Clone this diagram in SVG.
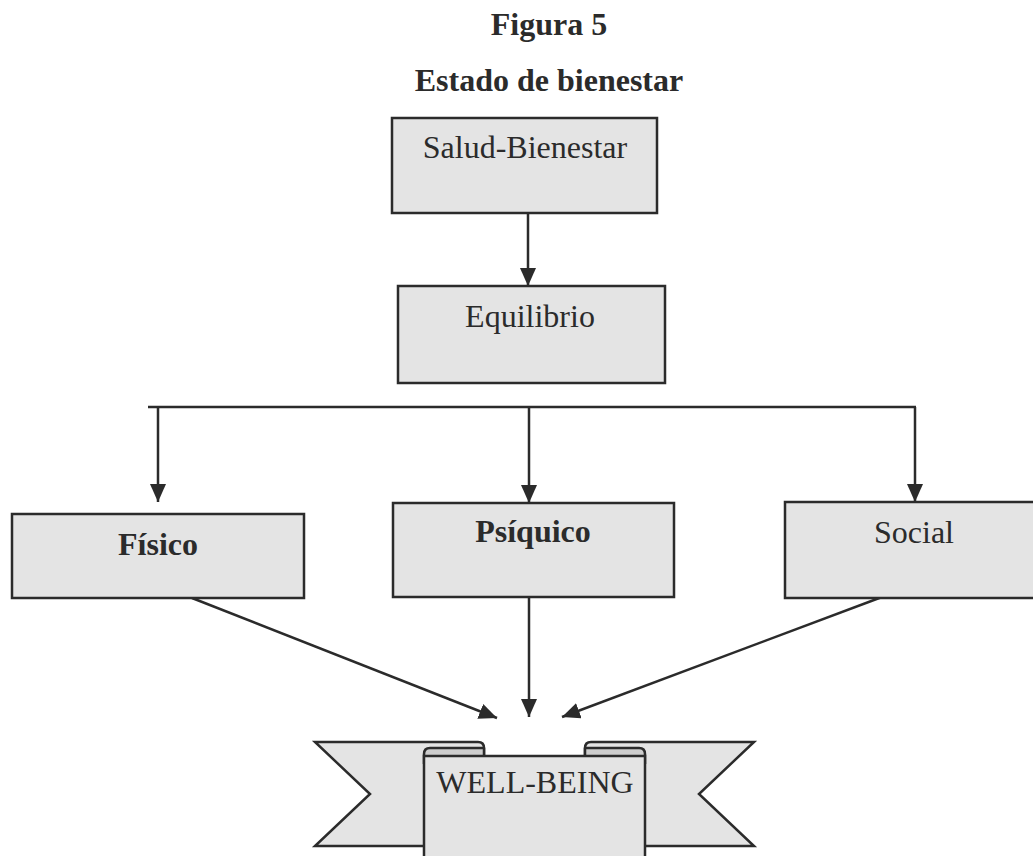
<svg xmlns="http://www.w3.org/2000/svg" width="1033" height="856" viewBox="0 0 1033 856">
  <style>
    .box { fill: #e4e4e4; stroke: #2b2b2b; stroke-width: 2.5; }
    .fold { fill: #cdcdcd; stroke: #2b2b2b; stroke-width: 2.5; stroke-linejoin: round; }
    .lbl { font-family: "Liberation Serif", "Times New Roman", serif; font-size: 32px; fill: #2b2b2b; text-anchor: middle; }
    .bold { font-weight: bold; }
    .wire { fill: none; stroke: #2b2b2b; stroke-width: 2.5; }
  </style>
  <defs>
    <marker id="head" viewBox="0 0 18 16" refX="18" refY="8" markerWidth="18" markerHeight="16" markerUnits="userSpaceOnUse" orient="auto">
      <path d="M0,0 L18,8 L0,16 Z" fill="#2b2b2b"/>
    </marker>
  </defs>
  <rect width="1033" height="856" fill="#ffffff"/>

  <!-- headings -->
  <g id="title">
    <text class="lbl bold" x="549" y="35">Figura 5</text>
    <text class="lbl bold" x="549" y="91">Estado de bienestar</text>
  </g>

  <!-- connectors -->
  <g id="connectors">
    <line class="wire" x1="528" y1="213" x2="528" y2="286" marker-end="url(#head)"/>
    <polyline class="wire" points="148,407 916,407"/>
    <line class="wire" x1="158" y1="407" x2="158" y2="502" marker-end="url(#head)"/>
    <line class="wire" x1="529" y1="407" x2="529" y2="503" marker-end="url(#head)"/>
    <line class="wire" x1="915" y1="407" x2="915" y2="502" marker-end="url(#head)"/>
    <line class="wire" x1="192" y1="598" x2="497" y2="718" marker-end="url(#head)"/>
    <line class="wire" x1="529" y1="597" x2="529" y2="717" marker-end="url(#head)"/>
    <line class="wire" x1="882" y1="597" x2="562" y2="717" marker-end="url(#head)"/>
  </g>

  <g id="salud">
    <rect class="box" x="392" y="118" width="265" height="95"/>
    <text class="lbl" x="525" y="158">Salud-Bienestar</text>
  </g>

  <g id="equilibrio">
    <rect class="box" x="398" y="286" width="267" height="97"/>
    <text class="lbl" x="530" y="327">Equilibrio</text>
  </g>

  <g id="fisico">
    <rect class="box" x="12" y="514" width="292" height="84"/>
    <text class="lbl bold" x="158" y="555">Físico</text>
  </g>

  <g id="psiquico">
    <rect class="box" x="393" y="503" width="281" height="94"/>
    <text class="lbl bold" x="533" y="542">Psíquico</text>
  </g>

  <g id="social">
    <rect class="box" x="785" y="502" width="262" height="96"/>
    <text class="lbl" x="914" y="543">Social</text>
  </g>

  <!-- ribbon banner -->
  <g id="wellbeing">
    <path class="box" d="M424,846 L315,846 L370,794 L315,742 L478,742 Q484,742 484,748 L484,756" stroke-linejoin="miter"/>
    <path class="box" d="M645,846 L754,846 L699,794 L754,742 L591,742 Q585,742 585,748 L585,756" stroke-linejoin="miter"/>
    <path class="fold" d="M424,764 L424,754 Q424,748 430,748 L484,748 L484,756"/>
    <path class="fold" d="M645,764 L645,754 Q645,748 639,748 L585,748 L585,756"/>
    <rect class="box" x="424" y="756" width="221" height="130"/>
    <text class="lbl" x="535" y="793">WELL-BEING</text>
  </g>
</svg>
